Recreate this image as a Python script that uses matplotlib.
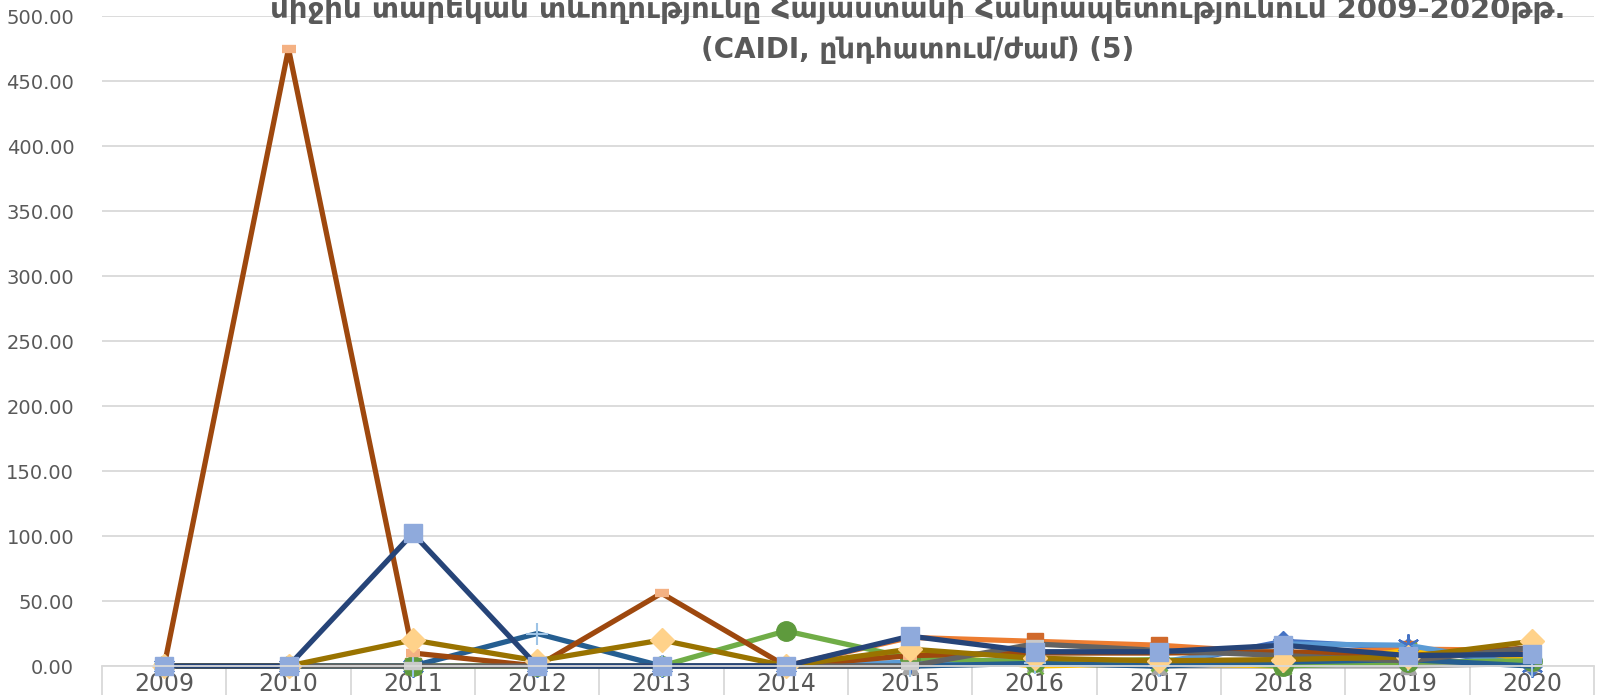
import numpy as np
import matplotlib
matplotlib.use('Agg')
import matplotlib.pyplot as plt

years = ['2009','2010','2011','2012','2013','2014','2015','2016','2017','2018','2019','2020']

s_blue = [0,0,0,0,0,0,2,4,0,19,14,0]
s_orange = [0,0,0,0,0,0,22,19,16,10,13,12]
s_gray = [0,0,0,0,0,0,0,2,0,0,0,2]
s_yellow = [0,0,0,0,0,0,10,0,2,0,12,6]
s_lblue = [0,0,0,0,0,0,3,5,3,17,16,0]
s_green = [0,0,0,0,0,27,6,3,5,0,3,4]
s_steel = [0,0,0,25,0,0,0,2,0,3,5,0]
s_brown = [0,475,10,0,56,0,8,10,10,11,8,14]
s_dgray = [0,0,0,0,0,0,0,17,12,8,4,14]
s_olive = [0,0,20,4,20,0,13,6,4,5,7,19]
s_navy = [0,0,102,0,0,0,23,11,11,16,8,9]

yticks = [0,50,100,150,200,250,300,350,400,450,500]

title1 = 'միջին տարեկան տևողությունը Հայաստանի Հանրապետությունում 2009-2020թթ.'
title2 = '(CAIDI, ընդհատում/ժամ) (5)'

# line colour, marker, marker colour, marker size, marker edge width
styles = [
    (s_blue, '#4472C4', 'D', '#4472C4', 10, 1),
    (s_orange, '#ED7D31', 's', '#D0692B', 12, 1),
    (s_gray, '#A5A5A5', '^', '#A5A5A5', 12, 1),
    (s_yellow, '#FFC000', 'x', '#70AD47', 12, 2),
    (s_lblue, '#5B9BD5', (6, 2, 0), '#4472C4', 16, 1.5),
    (s_green, '#70AD47', 'o', '#5E9A3D', 14, 1),
    (s_steel, '#255E91', '+', '#9DC3E6', 16, 1.5),
    (s_brown, '#9E480E', '_', '#F4B183', 10, 6),
    (s_dgray, '#636363', '_', '#C9C9C9', 13, 6),
    (s_olive, '#997300', 'D', '#FFD28A', 12, 1),
    (s_navy, '#264478', 's', '#8FAADC', 13, 1),
]

fig = plt.figure(figsize=(15.99, 6.95), dpi=100)
ax = fig.add_axes([0.0638, 0.0417, 0.9331, 0.9348])

x = np.arange(len(years))
for vals, lc, mk, mc, ms, mew in styles:
    ax.plot(x, vals, color=lc, lw=3.8, marker=mk, markersize=ms,
            markerfacecolor=mc, markeredgecolor=mc, markeredgewidth=mew,
            solid_joinstyle='round', clip_on=False)

ax.set_xlim(-0.5, len(years) - 0.5)
ax.set_ylim(0, 500)
ax.set_yticks(yticks)
ax.set_yticklabels(['%.2f' % v for v in yticks], fontsize=14, color='#595959')
ax.yaxis.grid(True, color='#d9d9d9', lw=1.3)
ax.set_axisbelow(True)
ax.tick_params(axis='y', length=0, pad=20)

ax.set_xticks(x)
ax.set_xticklabels(years, fontsize=17, color='#595959',
                   family=['Liberation Sans Narrow', 'DejaVu Sans'])
ax.set_xticks(np.arange(-0.5, len(years)), minor=True)
ax.tick_params(axis='x', which='major', length=0, pad=4)
ax.tick_params(axis='x', which='minor', length=30, color='#d9d9d9', width=1.3)

for s in ['top', 'right', 'left']:
    ax.spines[s].set_visible(False)
ax.spines['bottom'].set_color('#d9d9d9')
ax.spines['bottom'].set_linewidth(1.3)

fig.text(0.574, 0.975, title1, ha='center', va='baseline', fontsize=21,
         fontweight='bold', color='#595959')
fig.text(0.574, 0.9165, title2, ha='center', va='baseline', fontsize=20,
         fontweight='bold', color='#595959')

fig.savefig('out.png', dpi=100)
